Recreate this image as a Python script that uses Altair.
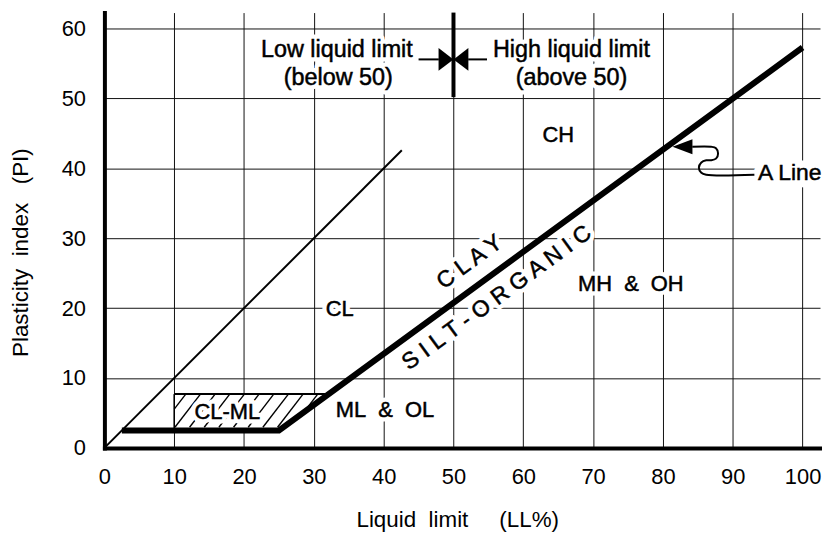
import altair as alt
import pandas as pd

FONT = "Liberation Sans"

# ---------------- data ----------------
x_ticks = [0, 10, 20, 30, 40, 50, 60, 70, 80, 90, 100]
y_ticks = [0, 10, 20, 30, 40, 50, 60]
x_domain = [0, 102.5]
y_domain = [0, 62.3]

# thin line (upper limit)
thin_x = [0.0, 42.6]
thin_y = [0.0, 42.6]

# A line (thick)
a_x = [2.5, 25.0, 100.0]
a_y = [2.5, 2.5, 57.3]

# CL-ML hatched zone
clml_x = [10.0, 25.0, 32.1]
clml_bottom = [2.5, 2.5, 7.7]
clml_top = [7.7, 7.7, 7.7]
clml_top_line_x = [10.0, 31.6]
clml_left_line_y = [2.5, 7.7]
hatch_x0 = [8.0, 10.1, 12.2, 14.3, 16.4, 18.5, 20.6, 22.7, 24.8, 26.9, 29.0]
hatch_bottom = 2.95
hatch_slope = 1.3

# LL = 50 divider with arrows
divider_x = 50.0
divider_y = [50.2, 62.3]
arrow_y = 55.6
arrow_left_line = [45.0, 47.9]
arrow_right_line = [52.1, 54.8]
arrow_tri_x = [48.93, 51.07]
arrow_tri_shape = ["M-0.65,-1L0.65,0L-0.65,1Z", "M0.65,-1L-0.65,0L0.65,1Z"]

# "A Line" pointer
pointer_head = (82.8, 43.1)
connector_x = [84.2, 86.9, 87.6, 87.9, 87.6, 86.9, 86.2, 85.5, 85.15, 85.5, 86.2, 93.1]
connector_y = [43.1, 43.1, 42.9, 42.15, 41.4, 41.16, 41.16, 40.85, 40.1, 39.37, 39.08, 39.08]

# text labels
zone_labels = ["CH", "CL", "MH\u00a0\u00a0&\u00a0\u00a0OH", "ML\u00a0\u00a0&\u00a0\u00a0OL", "CL-ML"]
zone_x = [65.0, 33.7, 75.4, 40.2, 17.6]
zone_y = [44.8, 19.9, 23.4, 5.4, 5.2]

limit_labels = ["Low liquid limit", "(below 50)", "High liquid limit", "(above 50)"]
limit_x = [33.3, 33.5, 66.9, 66.9]
limit_y = [56.9, 53.0, 56.9, 53.0]

aline_label = ["A Line"]
aline_label_x = [93.6]
aline_label_y = [39.4]

rot_labels = ["C L A Y", "S I L T - O R G A N I C"]
rot_x = [52.3, 56.2]
rot_y = [26.6, 21.5]
rot_angle = 323.8

# ---------------- encodings ----------------
x_axis = alt.Axis(
    values=x_ticks, format="d",
    title="Liquid\u00a0\u00a0limit\u00a0\u00a0\u00a0\u00a0\u00a0(LL%)",
    grid=True, gridColor="#111111", gridWidth=1,
    domainColor="black", domainWidth=4, domainCap="square",
    ticks=False, labelFont=FONT, labelFontSize=22, labelColor="black",
    labelPadding=19, labelFlush=False, labelOverlap=False,
    titleFont=FONT, titleFontSize=22.5, titleFontWeight="normal", titleColor="black",
    titleX=355, titleY=79, titleBaseline="alphabetic", zindex=0,
)
y_axis = alt.Axis(
    values=y_ticks, format="d",
    title="Plasticity\u00a0\u00a0index\u00a0\u00a0\u00a0(PI)",
    grid=True, gridColor="#111111", gridWidth=1,
    domainColor="black", domainWidth=4, domainCap="square",
    ticks=False, labelFont=FONT, labelFontSize=22, labelColor="black",
    labelPadding=19, labelFlush=False, labelOverlap=False,
    titleFont=FONT, titleFontSize=22.5, titleFontWeight="normal", titleColor="black",
    titleX=-77, titleY=241, titleBaseline="alphabetic", titleAngle=270, zindex=0,
)
xs = alt.Scale(domain=x_domain, nice=False, zero=False)
ys = alt.Scale(domain=y_domain, nice=False, zero=False)


def X(f="x"):
    return alt.X(f, type="quantitative", scale=xs, axis=x_axis)


def Y(f="y"):
    return alt.Y(f, type="quantitative", scale=ys, axis=y_axis)


# ---------------- hatch segments (clipped to zone) ----------------
a_slope = (a_y[2] - a_y[1]) / (a_x[2] - a_x[1])
hx1, hy1, hx2, hy2 = [], [], [], []
top = clml_top[0]
for x0 in hatch_x0:
    xs_, ys_ = x0, hatch_bottom
    if xs_ < clml_x[0]:
        ys_ = hatch_bottom + hatch_slope * (clml_x[0] - x0)
        xs_ = clml_x[0]
    xe, ye = x0 + (top - hatch_bottom) / hatch_slope, top
    # intersection with the sloping part of the A line (lower boundary)
    xi = (hatch_slope * x0 - hatch_bottom + a_y[1] - a_slope * a_x[1]) / (hatch_slope - a_slope)
    if xi > xs_:
        xs_ = xi
        ys_ = hatch_bottom + hatch_slope * (xi - x0)
    if xs_ >= xe or ys_ >= top:
        continue
    hx1.append(xs_); hy1.append(ys_); hx2.append(xe); hy2.append(ye)

# ---------------- layers ----------------
zone_fill = alt.Chart(pd.DataFrame({"x": clml_x, "y": clml_bottom, "y2": clml_top})).mark_area(
    color="white", opacity=1
).encode(x=X(), y=Y(), y2="y2")

hatch = alt.Chart(pd.DataFrame({"x": hx1, "y": hy1, "x2": hx2, "y2": hy2})).mark_rule(
    color="black", strokeWidth=1.4
).encode(x=X(), y=Y(), x2="x2", y2="y2")

zone_df = pd.DataFrame({"x": zone_x, "y": zone_y, "t": zone_labels})
limit_df = pd.DataFrame({"x": limit_x, "y": limit_y, "t": limit_labels})
aline_df = pd.DataFrame({"x": aline_label_x, "y": aline_label_y, "t": aline_label})
rot_df = pd.DataFrame({"x": rot_x, "y": rot_y, "t": rot_labels})


def texts(df, halo, halo_width=9, **kw):
    if halo:
        m = alt.Chart(df).mark_text(font=FONT, baseline="middle", color="white", stroke="white",
                                    strokeWidth=halo_width, strokeJoin="round", **kw)
    else:
        m = alt.Chart(df).mark_text(font=FONT, baseline="middle", color="black", stroke="black",
                                    strokeWidth=0.5, **kw)
    return m.encode(x=X(), y=Y(), text="t:N")


def all_texts(halo):
    return [
        texts(zone_df, halo, fontSize=22, align="center"),
        texts(limit_df, halo, fontSize=23.5, align="center"),
        texts(aline_df, halo, halo_width=15, fontSize=23, align="left"),
        texts(rot_df, halo, fontSize=23, align="center", angle=rot_angle),
    ]


thin = alt.Chart(pd.DataFrame({"x": thin_x, "y": thin_y})).mark_line(
    color="black", strokeWidth=2
).encode(x=X(), y=Y())

aline = alt.Chart(pd.DataFrame({"x": a_x, "y": a_y})).mark_line(
    color="black", strokeWidth=6, strokeJoin="miter", strokeCap="butt"
).encode(x=X(), y=Y())

zone_top = alt.Chart(pd.DataFrame({"x": [clml_top_line_x[0]], "x2": [clml_top_line_x[1]],
                                   "y": [clml_top[0]]})).mark_rule(
    color="black", strokeWidth=2
).encode(x=X(), x2="x2", y=Y())

zone_left = alt.Chart(pd.DataFrame({"x": [clml_x[0]], "y": [clml_left_line_y[0]],
                                    "y2": [clml_left_line_y[1]]})).mark_rule(
    color="black", strokeWidth=1.6
).encode(x=X(), y=Y(), y2="y2")

divider = alt.Chart(pd.DataFrame({"x": [divider_x], "y": [divider_y[0]], "y2": [divider_y[1]]})).mark_rule(
    color="black", strokeWidth=4
).encode(x=X(), y=Y(), y2="y2")

arrow_lines = alt.Chart(pd.DataFrame({
    "x": [arrow_left_line[0], arrow_right_line[0]],
    "x2": [arrow_left_line[1], arrow_right_line[1]],
    "y": [arrow_y, arrow_y]})).mark_rule(color="black", strokeWidth=2).encode(x=X(), x2="x2", y=Y())

tri_layers = [
    alt.Chart(pd.DataFrame({"x": [tx], "y": [arrow_y]})).mark_point(
        shape=shp, size=529, filled=True, color="black", opacity=1, strokeWidth=0
    ).encode(x=X(), y=Y())
    for tx, shp in zip(arrow_tri_x, arrow_tri_shape)
]

connector = alt.Chart(pd.DataFrame({"x": connector_x, "y": connector_y,
                                    "i": list(range(len(connector_x)))})).mark_line(
    color="black", strokeWidth=2, interpolate="catmull-rom"
).encode(x=X(), y=Y(), order="i:Q")

head = alt.Chart(pd.DataFrame({"x": [pointer_head[0]], "y": [pointer_head[1]]})).mark_point(
    shape="M-1,0L1,-0.75L1,0.75Z", size=400, filled=True, color="black", opacity=1, strokeWidth=0
).encode(x=X(), y=Y())

layers = [zone_fill, hatch] + all_texts(True) + [
    thin, aline, zone_top, zone_left, divider, arrow_lines, connector, head
] + tri_layers + all_texts(False)

chart = alt.layer(*layers).properties(
    width=720, height=438,
    padding={"left": 97, "top": 3, "right": 2, "bottom": 84},
    autosize=alt.AutoSizeParams(type="none"),
    background="white",
).configure_view(stroke=None)

chart.save("out.html", embed_options={"renderer": "svg", "actions": False})
